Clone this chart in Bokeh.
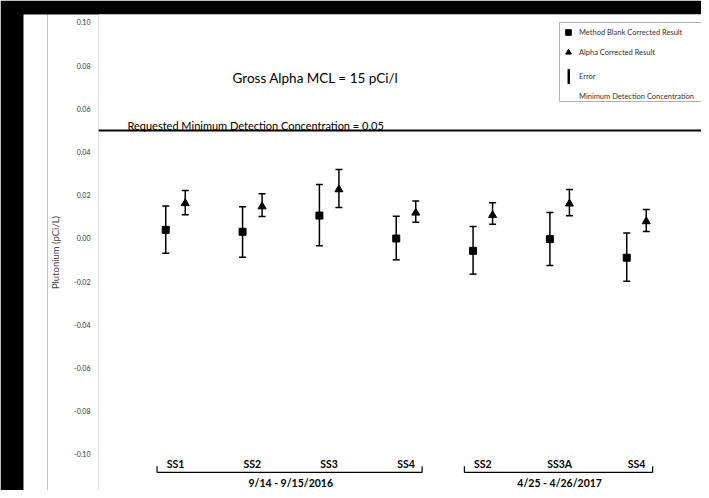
import numpy as np
from bokeh.plotting import figure
from bokeh.models import (ColumnDataSource, Whisker, TeeHead, Span, Label, FixedTicker,
                          PrintfTickFormatter, Legend, LegendItem, Range1d, LinearAxis,
                          BoxAnnotation)
from bokeh.core.properties import value
from bokeh.embed import file_html
from bokeh.resources import INLINE

# ---------------- data ----------------
categories = ["SS1", "SS2", "SS3", "SS4", "SS2", "SS3A", "SS4"]
group_of = [0, 0, 0, 0, 1, 1, 1]
group_names = ["9/14 - 9/15/2016", "4/25 - 4/26/2017"]

mb_result = [0.0040, 0.0031, 0.0106, 0.0000, -0.0057, -0.0003, -0.0089]
mb_lower = [-0.0068, -0.0087, -0.0034, -0.0099, -0.0165, -0.0125, -0.0198]
mb_upper = [0.0150, 0.0147, 0.0250, 0.0103, 0.0056, 0.0120, 0.0025]

alpha_result = [0.0163, 0.0148, 0.0227, 0.0119, 0.0108, 0.0161, 0.0079]
alpha_lower = [0.0110, 0.0102, 0.0144, 0.0075, 0.0066, 0.0105, 0.0032]
alpha_upper = [0.0222, 0.0207, 0.0319, 0.0173, 0.0165, 0.0227, 0.0134]

mdc_value = 0.05
mdc_text = "Requested Minimum Detection Concentration = 0.05"
mcl_text = "Gross Alpha MCL = 15 pCi/l"
y_ticks = [0.10, 0.08, 0.06, 0.04, 0.02, 0.00, -0.02, -0.04, -0.06, -0.08, -0.10]

# ---------------- layout ----------------
FONT = "Lato"
off = 0.127
xi = np.arange(len(categories))

p = figure(width=701, height=490, output_backend="svg", toolbar_location=None,
           x_range=Range1d(-1.002, 6.846), y_range=Range1d(-0.11667, 0.1037),
           min_border_left=98, min_border_right=0, min_border_top=14, min_border_bottom=0)
p.border_fill_color = "black"
p.background_fill_color = "white"
p.outline_line_color = None
p.grid.visible = False
p.xaxis.visible = False

# y axis
yax = p.yaxis[0]
yax.ticker = FixedTicker(ticks=y_ticks)
yax.formatter = PrintfTickFormatter(format="%.2f")
yax.axis_line_color = None
yax.major_tick_line_color = None
yax.minor_tick_line_color = None
yax.major_tick_out = 0
yax.major_tick_in = 0
yax.major_label_text_font = FONT
yax.major_label_text_font_size = "7px"
yax.major_label_text_color = "#333333"
yax.major_label_standoff = 8
yax.axis_label = "Plutonium (pCi/L)"
yax.axis_label_text_font = FONT
yax.axis_label_text_font_size = "9.5px"
yax.axis_label_text_font_style = "normal"
yax.axis_label_standoff = 10
yax.background_fill_color = "white"

# white spacer between the axis title and the scan border (its label is invisible)
spacer = LinearAxis(ticker=FixedTicker(ticks=[0.0]), major_tick_out=24, major_tick_in=0,
                    major_label_standoff=0, axis_line_color=None,
                    major_tick_line_color=None, minor_tick_line_color=None,
                    major_label_text_font_size="8px", major_label_text_color=None,
                    background_fill_color="white")
p.add_layout(spacer, "left")

# MDC line and texts
p.add_layout(Span(location=mdc_value, dimension="width", line_color="black", line_width=2))
p.add_layout(Label(x=-0.625, y=0.0523, text=mdc_text, text_font=FONT,
                   text_font_size="11px", text_color="black", text_baseline="alphabetic"))
p.add_layout(Label(x=0.742, y=0.0745, text=mcl_text, text_font=FONT,
                   text_font_size="13.5px", text_color="black", text_baseline="alphabetic"))

# error bars
mb_src = ColumnDataSource(dict(x=xi - off, y=mb_result, lo=mb_lower, hi=mb_upper))
al_src = ColumnDataSource(dict(x=xi + off, y=alpha_result, lo=alpha_lower, hi=alpha_upper))
for src in (mb_src, al_src):
    w = Whisker(source=src, base="x", lower="lo", upper="hi", dimension="height",
                line_color="black", line_width=1.5,
                upper_head=TeeHead(size=7, line_color="black", line_width=1.5),
                lower_head=TeeHead(size=7, line_color="black", line_width=1.5))
    p.add_layout(w)

r_mb = p.scatter("x", "y", source=mb_src, marker="square", size=7,
                 fill_color="black", line_color="black")
r_al = p.scatter("x", "y", source=al_src, marker="triangle", size=8,
                 fill_color="black", line_color="black")

# category labels and group brackets
cat_y = -0.1042
br_y = -0.1083
br_tick = 0.0028
p.text(x=xi, y=[cat_y] * len(xi), text=categories, text_align="center",
       text_baseline="middle", text_font=value(FONT), text_font_style="bold",
       text_font_size="10.5px", text_color="black")

g_idx = [[i for i, g in enumerate(group_of) if g == k] for k in range(len(group_names))]
g_start = [min(ix) - 0.24 for ix in g_idx]
g_end = [max(ix) + 0.21 for ix in g_idx]
g_mid = [float(np.mean(ix)) for ix in g_idx]
p.segment(x0=g_start, y0=[br_y] * 2, x1=g_end, y1=[br_y] * 2, line_color="black", line_width=1.2)
p.segment(x0=g_start + g_end, y0=[br_y] * 4, x1=g_start + g_end, y1=[br_y + br_tick] * 4,
          line_color="black", line_width=1.2)
p.text(x=g_mid, y=[-0.1134] * 2, text=group_names, text_align="center",
       text_baseline="middle", text_font=value(FONT), text_font_style="bold",
       text_font_size="10.5px", text_color="black")

# legend frame
p.add_layout(BoxAnnotation(left=559, right=730, top=22, bottom=101,
                           left_units="canvas", right_units="canvas",
                           top_units="canvas", bottom_units="canvas",
                           fill_color="white", fill_alpha=1.0,
                           line_color="black", line_width=1))

# legend samples (NaN positions: shown only in the legends)
r_err = p.vbar(x=[np.nan], top=[np.nan], width=0.1, fill_color="black", line_color="black",
               line_width=0.5)
r_mdc = p.line(x=[np.nan], y=[np.nan], line_color="black", line_alpha=0.0)

common = dict(margin=0, padding=0, label_text_font=FONT, label_text_font_size="7.5px",
              label_text_color="#333333", border_line_color=None,
              background_fill_alpha=0.0)
legend_a = Legend(items=[
    LegendItem(label="Method Blank Corrected Result", renderers=[r_mb]),
    LegendItem(label="Alpha Corrected Result", renderers=[r_al]),
], location=(463, 430), glyph_width=14, glyph_height=16, label_height=16,
    spacing=4, label_standoff=4, **common)
legend_b = Legend(items=[
    LegendItem(label="Error", renderers=[r_err]),
    LegendItem(label="Minimum Detection Concentration", renderers=[r_mdc]),
], location=(469, 385), glyph_width=3, glyph_height=18, label_height=16,
    spacing=2, label_standoff=9, **common)
p.add_layout(legend_a)
p.add_layout(legend_b)

open("out.html", "w").write(file_html(p, INLINE))
